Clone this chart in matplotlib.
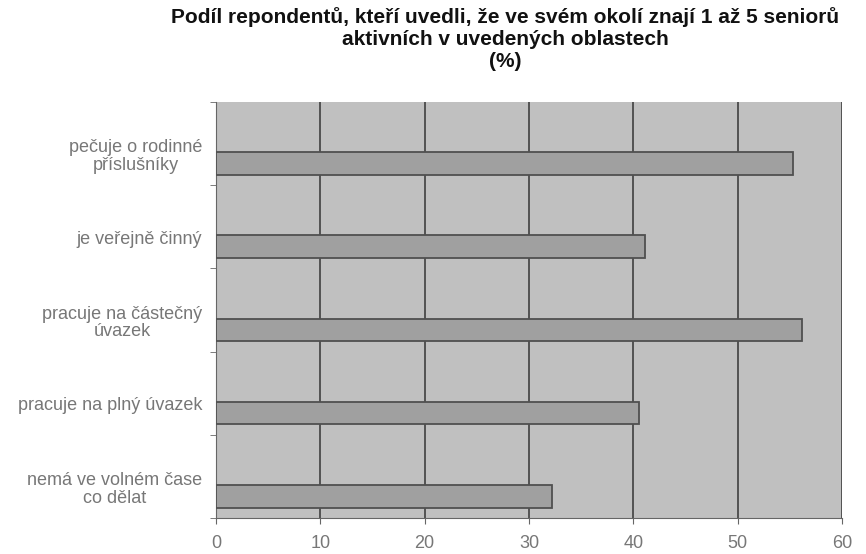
import numpy as np
import matplotlib
matplotlib.use("Agg")
import matplotlib.pyplot as plt

plt.rcParams["font.family"] = ["Liberation Sans", "DejaVu Sans"]

# categories from top to bottom, values in %
categories = [
    "pečuje o rodinné\npříslušníky",
    "je veřejně činný",
    "pracuje na částečný\núvazek",
    "pracuje na plný úvazek",
    "nemá ve volném čase\nco dělat",
]
values = [55.3, 41.1, 56.2, 40.5, 32.2]
x_ticks = [0, 10, 20, 30, 40, 50, 60]
title = ("Podíl repondentů, kteří uvedli, že ve svém okolí znají 1 až 5 seniorů\n"
         "aktivních v uvedených oblastech\n(%)")

fig = plt.figure(figsize=(8.66, 5.54), dpi=100)
ax = fig.add_axes([0.2494, 0.065, 0.7229, 0.751])
ax.set_facecolor("#c0c0c0")

n = len(categories)
pos = np.arange(n)[::-1]
# bars sit a bit below the category centre (3D look of the original)
ax.barh(pos - 0.24, values, height=0.27, color="#a0a0a0",
        edgecolor="#505050", linewidth=1.3, zorder=3)

ax.set_xlim(0, 60)
ax.set_ylim(-0.5, n - 0.5)
ax.set_xticks(x_ticks)
ax.set_xticklabels([str(t) for t in x_ticks], color="#777777", fontsize=13)
ax.xaxis.grid(True, color="#404040", linewidth=1.2, zorder=1)
ax.set_axisbelow(True)

ax.set_yticks(pos - 0.13)
ax.set_yticklabels(categories, color="#777777", fontsize=13,
                   multialignment="center", linespacing=1.05)
ax.tick_params(axis="y", length=0, pad=10)
ax.set_yticks(np.arange(-0.5, n, 1.0), minor=True)
ax.tick_params(axis="y", which="minor", length=4, color="#666666")
ax.tick_params(axis="x", length=4, color="#666666", pad=8)

for s in ["top", "right"]:
    ax.spines[s].set_visible(False)
ax.spines["left"].set_color("#666666")
ax.spines["bottom"].set_color("#666666")

fig.text(0.583, 0.988, title, ha="center", va="top", fontsize=15,
         fontweight="bold", color="#111111", linespacing=1.2)

fig.savefig("out.png", dpi=100)
